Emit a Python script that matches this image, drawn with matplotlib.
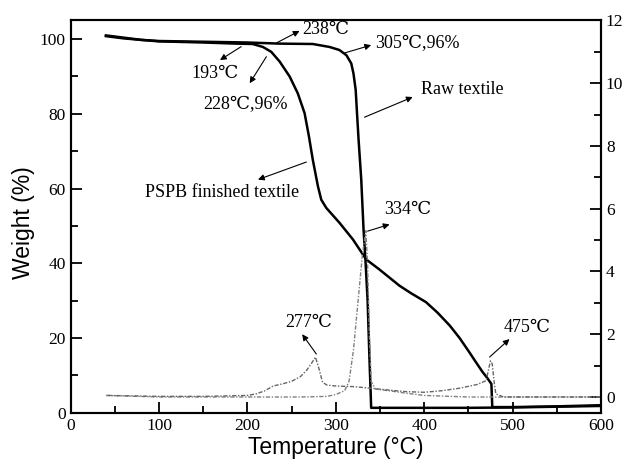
import matplotlib
matplotlib.use("Agg")
import matplotlib.pyplot as plt
from matplotlib.ticker import MultipleLocator

# TG curves (weight %, left axis)
raw_tg_t = [40, 60, 80, 100, 150, 200, 236.5, 274, 293, 304, 312, 317.5, 320, 322.5, 324,
            325.8, 328.8, 331.4, 333.7, 336, 338, 339.5, 340, 360, 400, 450, 500, 550, 600]
raw_tg_w = [100.8, 100.2, 99.8, 99.5, 99.3, 99.1, 98.8, 98.7, 97.9, 97.1, 95.7, 93.5, 90.8, 86.4, 80.2,
            73.0, 62.4, 49.0, 40.2, 30.0, 15.0, 5.0, 1.3, 1.3, 1.3, 1.3, 1.4, 1.6, 1.8]

pspb_tg_t = [40, 60, 80, 100, 150, 187.5, 206, 217.6, 227, 236.5, 247.8, 257, 264.7, 269.6, 274,
             279.8, 283.6, 289.3, 304.3, 319.3, 334.5, 349, 360, 372, 385, 402, 415, 429, 440,
             451, 458, 466, 471, 476, 477, 500, 550, 600]
pspb_tg_w = [101.0, 100.4, 99.8, 99.4, 99.1, 98.8, 98.7, 97.9, 96.6, 94.0, 90.0, 85.5, 80.2, 74.0, 67.7,
             60.6, 57.0, 54.8, 50.8, 46.4, 41.0, 38.4, 36.3, 34.0, 32.0, 29.6, 26.8, 23.3, 20.0,
             16.2, 13.7, 10.9, 9.4, 7.7, 1.5, 1.5, 1.7, 2.0]

# DTG curves (right axis)
raw_dtg_t = [40, 100, 200, 260, 290, 300, 310, 315, 320, 325, 330, 333, 334, 336, 338, 340, 345,
             360, 380, 400, 450, 500, 550, 600]
raw_dtg_v = [0.05, 0.0, 0.0, 0.0, 0.02, 0.08, 0.2, 0.5, 1.5, 3.0, 4.5, 5.1, 5.3, 4.2, 2.0, 0.5, 0.25,
             0.2, 0.12, 0.05, 0.0, 0.0, 0.0, 0.0]

pspb_dtg_t = [42, 100, 150, 200, 210, 220, 229, 240, 250, 260, 267, 272, 277, 281, 285, 290, 300,
              320, 340, 360, 380, 400, 420, 440, 460, 470, 473, 475, 477, 479, 481, 490, 520, 560, 600]
pspb_dtg_v = [0.05, 0.02, 0.02, 0.05, 0.1, 0.2, 0.35, 0.42, 0.5, 0.65, 0.85, 1.05, 1.27, 0.9, 0.47, 0.38, 0.35,
              0.33, 0.28, 0.22, 0.17, 0.15, 0.2, 0.28, 0.4, 0.52, 0.9, 1.15, 1.05, 0.5, 0.1, 0.0, 0.0, 0.0, 0.0]

serif = ['Liberation Serif', 'DejaVu Serif', 'Noto Sans CJK SC']
sans = ['Liberation Sans', 'DejaVu Sans']

fig = plt.figure(figsize=(6.3, 4.65), dpi=100)
ax = fig.add_axes([0.112, 0.1125, 0.842, 0.8435])
ax2 = ax.twinx()

ax.plot(raw_tg_t, raw_tg_w, color='k', lw=1.8)
ax.plot(pspb_tg_t, pspb_tg_w, color='k', lw=1.8)
ax2.plot(raw_dtg_t, raw_dtg_v, color='0.5', lw=1.0, ls=(0, (3, 1.2, 1, 1.2)))
ax2.plot(pspb_dtg_t, pspb_dtg_v, color='0.4', lw=1.0, ls=(0, (3, 1.2, 1, 1.2)))

ax.set_xlim(0, 600)
ax.set_ylim(0, 105)
ax2.set_ylim(-0.5, 12)

ax.xaxis.set_major_locator(MultipleLocator(100))
ax.xaxis.set_minor_locator(MultipleLocator(50))
ax.yaxis.set_major_locator(MultipleLocator(20))
ax.yaxis.set_minor_locator(MultipleLocator(10))
ax2.yaxis.set_major_locator(MultipleLocator(2))
ax2.yaxis.set_minor_locator(MultipleLocator(1))

ax.tick_params(axis='both', which='both', direction='in', top=False, right=False, width=1.3)
ax.tick_params(which='major', length=8)
ax.tick_params(which='minor', length=5)
ax2.tick_params(axis='y', which='both', direction='in', width=1.3)
ax2.tick_params(which='major', length=8)
ax2.tick_params(which='minor', length=5)

for a in (ax, ax2):
    for s in a.spines.values():
        s.set_linewidth(1.5)
    for lab in a.get_xticklabels() + a.get_yticklabels():
        lab.set_family(serif)
        lab.set_fontsize(12.5)

ax.set_xlabel('Temperature (°C)', family=sans, fontsize=16.5, labelpad=2)
ax.set_ylabel('Weight (%)', family=sans, fontsize=16.5)
ax.yaxis.set_label_coords(-0.067, 0.485)

# annotations: (text, text pos, arrow tail, arrow head, alignment)
notes = [
    ('238℃', (262.5, 102.7), (233, 99.0), (259, 102.2), 'left'),
    ('305℃,96%', (344, 98.8), (310, 96.3), (340, 98.4), 'left'),
    ('193℃', (163, 90.8), (193, 98.0), (169, 94.4), 'center'),
    ('228℃,96%', (197.6, 82.4), (221.5, 95.3), (202.6, 88.2), 'center'),
    ('PSPB finished textile', (171, 58.9), (266.7, 67.1), (212, 62.4), 'center'),
    ('Raw textile', (442.7, 86.4), (332.5, 79.1), (387, 84.5), 'center'),
    ('334℃', (381, 54.4), (336, 48.6), (360.8, 50.4), 'center'),
    ('277℃', (269.3, 24.2), (278, 15.7), (262, 21.0), 'center'),
    ('475℃', (516, 22.9), (474, 14.9), (496.5, 19.7), 'center'),
]
for txt, tpos, tail, head, ha in notes:
    ax.text(tpos[0], tpos[1], txt, family=serif, fontsize=13, ha=ha, va='center')
    ax.annotate('', xy=head, xytext=tail,
                arrowprops=dict(arrowstyle='-|>', color='k', lw=0.8,
                                mutation_scale=9, shrinkA=0, shrinkB=0))

fig.savefig('out.png', dpi=100)
